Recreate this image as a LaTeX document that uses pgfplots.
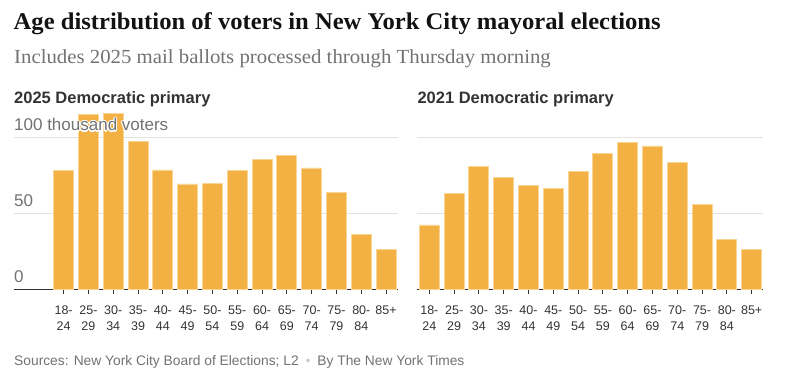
\documentclass[border=0pt]{standalone}
\usepackage{pgfplots}
\pgfplotsset{compat=1.18}
\usepackage{fontspec}
\setmainfont{Liberation Sans}
\newfontfamily\titlefont[FakeStretch=1.025]{Liberation Serif}
\newfontfamily\subfont[FakeStretch=1.04]{Liberation Serif}
\definecolor{titlecol}{HTML}{121212}
\definecolor{subcol}{HTML}{727272}
\definecolor{panelcol}{HTML}{333333}
\definecolor{ylabcol}{HTML}{727272}
\definecolor{tickcol}{HTML}{333333}
\definecolor{gridcol}{HTML}{E2E2E2}
\definecolor{barfill}{HTML}{F3B043}
\definecolor{baredge}{HTML}{F9D596}
\definecolor{bulletcol}{HTML}{CCCCCC}

\pgfplotstableread{
x v
0 78.3
1 114.9
2 115.5
3 97.4
4 78.5
5 69.3
6 69.5
7 78.0
8 85.7
9 87.9
10 79.8
11 63.4
12 36.2
13 26.1
}\dataA
\pgfplotstableread{
x v
0 42.3
1 62.9
2 81.1
3 73.4
4 68.0
5 66.6
6 77.8
7 89.2
8 96.9
9 94.3
10 83.3
11 55.5
12 32.6
13 26.1
}\dataB

\pgfplotsset{
  panel/.style={
    scale only axis,
    anchor=south west,
    height=182.4pt,
    ymin=0, ymax=120,
    ytick={50,100},
    yticklabels={},
    ymajorgrids,
    grid style={color=gridcol, line width=0.9pt},
    axis x line*=bottom,
    axis y line*=left,
    y axis line style={draw=none},
    ytick style={draw=none},
    x axis line style={color=tickcol, line width=1pt, -},
    xtick={0,...,13},
    xticklabels={{18-\\24},{25-\\29},{30-\\34},{35-\\39},{40-\\44},{45-\\49},{50-\\54},{55-\\59},{60-\\64},{65-\\69},{70-\\74},{75-\\79},{80-\\84},{85+}},
    xticklabel style={align=center, anchor=north, text=tickcol, font=\fontsize{12.5}{16.3}\selectfont, inner sep=0pt, yshift=-11pt},
    tick align=outside,
    major tick length=5pt,
    xtick style={color=tickcol, line width=1pt},
    ybar, bar width=20pt,
  },
}

\begin{document}
\begin{tikzpicture}
\useasboundingbox (0,0) rectangle (787pt,390pt);

\node[anchor=base west, inner sep=0, text=titlecol] at (13.5pt,{(390-29.3)*1pt}) {\titlefont\bfseries\fontsize{24}{27}\selectfont Age distribution of voters in New York City mayoral elections};
\node[anchor=base west, inner sep=0, text=subcol] at (14pt,{(390-64)*1pt}) {\subfont\fontsize{20}{23}\selectfont Includes 2025 mail ballots processed through Thursday morning};

\node[anchor=base west, inner sep=0, text=panelcol] at (14pt,{(390-103.3)*1pt}) {\bfseries\fontsize{16.5}{19}\selectfont 2025 Democratic primary};
\node[anchor=base west, inner sep=0, text=panelcol] at (417.3pt,{(390-103.3)*1pt}) {\bfseries\fontsize{16.5}{19}\selectfont 2021 Democratic primary};

\begin{axis}[panel, at={(14pt,100.7pt)}, width=384pt, xmin=-2, xmax=13.48]
\addplot[fill=barfill, draw=baredge, line width=0.9pt] table[x=x, y=v] {\dataA};
\end{axis}

\begin{axis}[panel, at={(416.7pt,100.7pt)}, width=346.6pt, xmin=-0.51, xmax=13.47]
\addplot[fill=barfill, draw=baredge, line width=0.9pt] table[x=x, y=v] {\dataB};
\end{axis}

% y labels with white halo
\foreach \dx/\dy in {-1.2/0,1.2/0,0/1.2,0/-1.2,-0.85/0.85,0.85/0.85,-0.85/-0.85,0.85/-0.85}{
  \node[anchor=base west, inner sep=0, text=white] at ({(14+\dx)*1pt},{(390-131+\dy)*1pt}) {\fontsize{17}{20}\selectfont 100 thousand voters};
}
\node[anchor=base west, inner sep=0, text=ylabcol] at (14pt,{(390-131)*1pt}) {\fontsize{17}{20}\selectfont 100 thousand voters};
\node[anchor=base west, inner sep=0, text=ylabcol] at (14pt,{(390-206.7)*1pt}) {\fontsize{17}{20}\selectfont 50};
\node[anchor=base west, inner sep=0, text=ylabcol] at (14pt,{(390-282.7)*1pt}) {\fontsize{17}{20}\selectfont 0};

\node[anchor=base west, inner sep=0, text=subcol] at (14pt,{(390-365.5)*1pt}) {\fontsize{13.8}{17}\selectfont Sources: New York City Board of Elections; L2\hspace{0.5em}{\color{bulletcol}\textbullet}\hspace{0.5em}By The New York Times};
\end{tikzpicture}
\end{document}
